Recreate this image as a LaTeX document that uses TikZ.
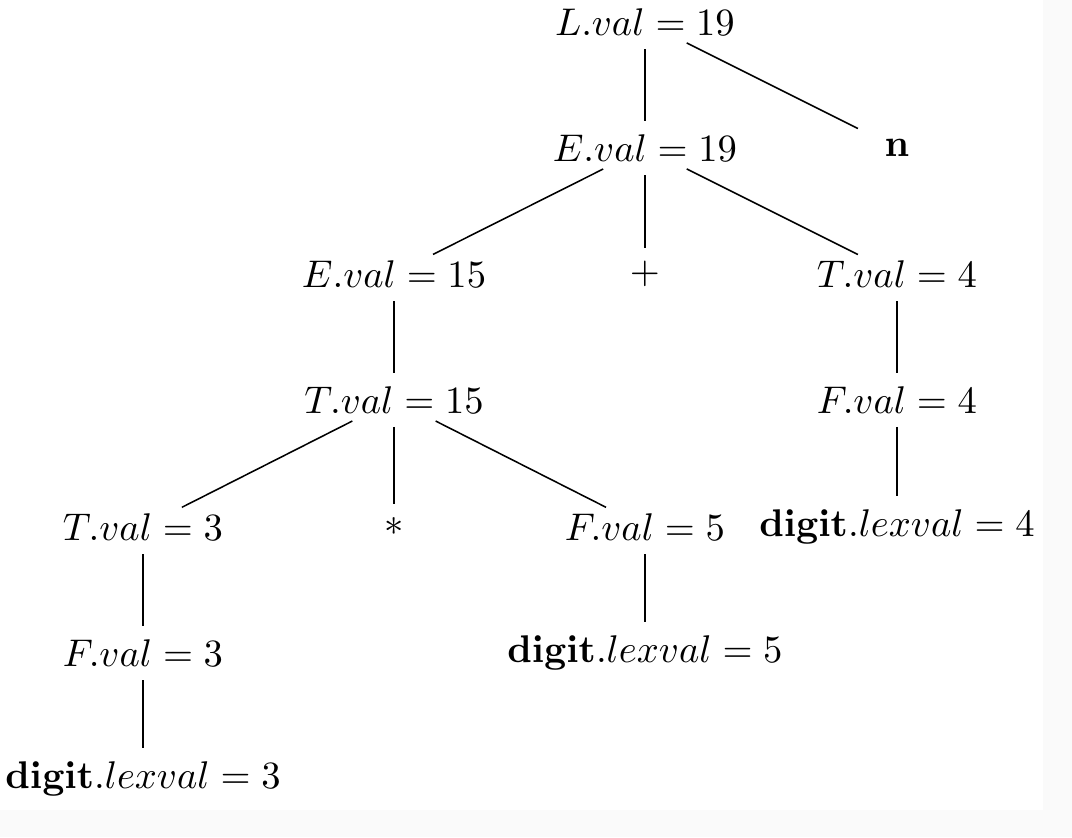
\documentclass[tikz,border=0pt]{standalone}
\usepackage{amsfonts}
\usepackage{amsmath}
\usepackage{tikz}
\usetikzlibrary{positioning, calc}

\begin{document}
\begin{tikzpicture}
\fill[black!2] (0, 0) rectangle (9.762, -7.622);
\fill[white] (0, 0) rectangle (9.498, -7.376);
\useasboundingbox (0, 0) rectangle (9.762, -7.622);

\node (L) at (5.873, -0.200) {$L.val = 19$};
\node (E1) at (5.873, -1.348) {$E.val = 19$};
\node (n) at (8.168, -1.348) {$\mathbf{n}$};
\node (E2) at (3.588, -2.495) {$E.val = 15$};
\node (plus) at (5.873, -2.495) {$+$};
\node (T1) at (8.168, -2.495) {$T.val = 4$};
\node (T2) at (3.588, -3.642) {$T.val = 15$};
\node (F1) at (8.168, -3.642) {$F.val = 4$};
\node (T3) at (1.302, -4.799) {$T.val = 3$};
\node (times) at (3.588, -4.799) {$*$};
\node (F2) at (5.873, -4.799) {$F.val = 5$};
\node (d4) at (8.168, -4.799) {$\mathbf{digit}.lexval = 4$};
\node (F3) at (1.302, -5.946) {$F.val = 3$};
\node (d5) at (5.873, -5.946) {$\mathbf{digit}.lexval = 5$};
\node (d3) at (1.302, -7.094) {$\mathbf{digit}.lexval = 3$};

% straight down
\draw (L) -- (E1);
\draw (E1) -- (plus);
\draw (E2) -- (T2);
\draw (T1) -- (F1);
\draw (F1) -- (d4);
\draw (T2) -- (times);
\draw (T3) -- (F3);
\draw (F3) -- (d3);
\draw (F2) -- (d5);

% slanted
\draw ($(L)!12.1pt!(n)$) -- ($(n)!11.3pt!(L)$);
\draw ($(E1)!12.1pt!(E2)$) -- ($(E2)!11.3pt!(E1)$);
\draw ($(E1)!12.1pt!(T1)$) -- ($(T1)!11.3pt!(E1)$);
\draw ($(T2)!12.1pt!(T3)$) -- ($(T3)!11.3pt!(T2)$);
\draw ($(T2)!12.1pt!(F2)$) -- ($(F2)!11.3pt!(T2)$);

\end{tikzpicture}
\end{document}
